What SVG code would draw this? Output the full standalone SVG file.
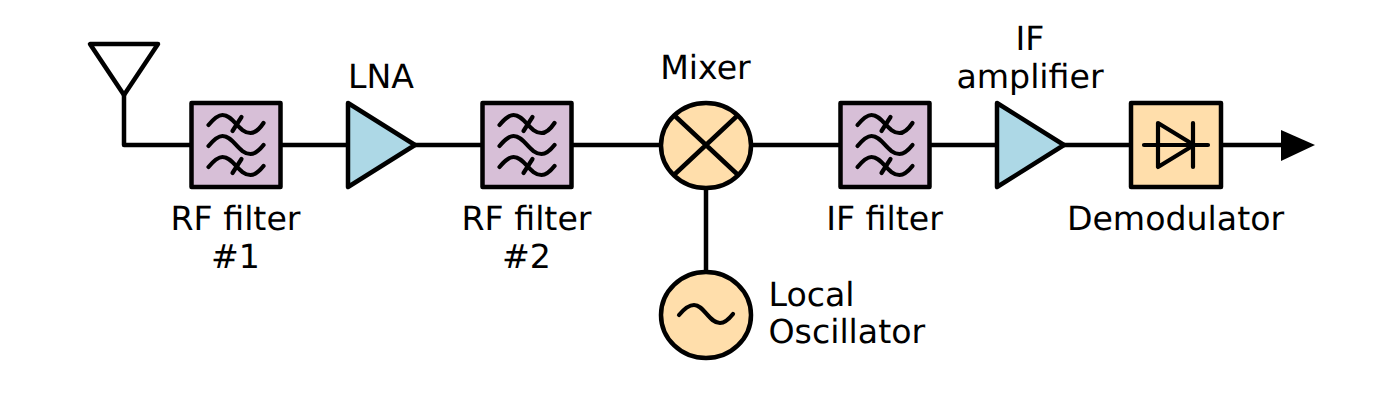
<svg xmlns="http://www.w3.org/2000/svg" width="1400" height="401" viewBox="0 0 1400 401">
<style>
.s{stroke:#000;stroke-width:4.5;stroke-linejoin:round;stroke-linecap:round}
.i{fill:none;stroke:#000;stroke-width:4.2;stroke-linecap:round;stroke-linejoin:round}
.f{fill:#d7bfd7}.a{fill:#add8e6}.o{fill:#ffdeab}
text{font-family:"DejaVu Sans",sans-serif;font-size:33.2px;fill:#000;text-anchor:middle;text-rendering:geometricPrecision}
.l{text-anchor:start}
</style>
<defs>
<g id="filter">
<rect class="s f" x="0" y="0" width="89" height="84"/>
<path class="i" d="M17 22C22 16 26 12 31 12C42 12 47 30 59 30C64 30 68 26 72 20"/>
<path class="i" d="M17 43C22 37 26 33 31 33C42 33 47 51 59 51C64 51 68 47 72 42"/>
<path class="i" d="M17 64C22 58 26 54 31 54C42 54 47 72 59 72C64 72 68 68 72 63"/>
<path class="i" d="M41 28L50 14M41 70L50 56"/>
</g>
<polygon id="amp" class="s a" points="0,0 67,42 0,84"/>
</defs>
<g id="connectors">
<path class="s" fill="none" d="M124 95V145H191M281 145H348M415 145H482M572 145H661M751 145H840M930 145H997M1064 145H1131M1221 145H1285M706 188V272"/>
<polygon points="1281,130 1315,145 1281,161" fill="#000"/>
</g>
<g id="antenna"><polygon class="s" fill="none" points="90,44 158,44 124,95"/></g>
<g id="rf1"><use href="#filter" x="191.5" y="103"/><text x="235.5" y="229.5">RF filter</text><text x="235.5" y="267.5">#1</text></g>
<g id="lna"><use href="#amp" x="348" y="103"/><text x="381" y="87.5">LNA</text></g>
<g id="rf2"><use href="#filter" x="482.5" y="103"/><text x="526.5" y="229.5">RF filter</text><text x="526.5" y="267.5">#2</text></g>
<g id="mixer"><ellipse class="s o" cx="706" cy="145.5" rx="45" ry="42.5"/><path class="s" d="M675 116L737 174M737 116L675 174"/><text x="705.5" y="78.5">Mixer</text></g>
<g id="lo"><ellipse class="s o" cx="706" cy="315" rx="45" ry="43"/><path class="i" d="M679 315C684 309 689 305 694 305C704 305 709 323 720 323C725 323 729 319 733 314"/><text class="l" x="768.5" y="305.5">Local</text><text class="l" x="768.5" y="342.5">Oscillator</text></g>
<g id="iff"><use href="#filter" x="840.5" y="103"/><text x="884.5" y="229.5">IF filter</text></g>
<g id="ifa"><use href="#amp" x="997" y="103"/><text x="1030" y="49.5">IF</text><text x="1030" y="87.5">amplifier</text></g>
<g id="demod"><rect class="s o" x="1131" y="103" width="90" height="84"/><path class="i" d="M1144 145H1208M1193 123V167"/><polygon class="i" points="1158,123 1194,145 1158,167"/><text x="1175.5" y="229.5">Demodulator</text></g>
</svg>
